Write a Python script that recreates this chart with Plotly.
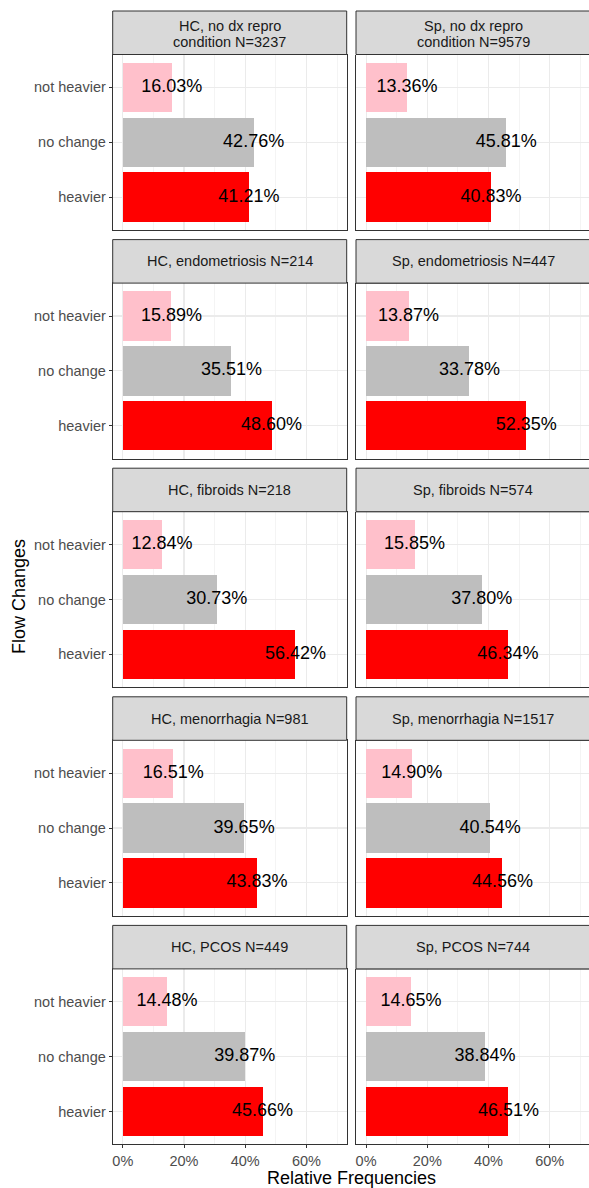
import plotly.graph_objects as go

# ---------------- data ----------------
categories = ["heavier", "no change", "not heavier"]
bar_colors = {"heavier": "#FF0000", "no change": "#BEBEBE", "not heavier": "#FFC0CB"}

panel_titles = [
    ["HC, no dx repro", "condition N=3237"],
    ["Sp, no dx repro", "condition N=9579"],
    ["HC, endometriosis N=214"],
    ["Sp, endometriosis N=447"],
    ["HC, fibroids N=218"],
    ["Sp, fibroids N=574"],
    ["HC, menorrhagia N=981"],
    ["Sp, menorrhagia N=1517"],
    ["HC, PCOS N=449"],
    ["Sp, PCOS N=744"],
]
not_heavier = [16.03, 13.36, 15.89, 13.87, 12.84, 15.85, 16.51, 14.90, 14.48, 14.65]
no_change = [42.76, 45.81, 35.51, 33.78, 30.73, 37.80, 39.65, 40.54, 39.87, 38.84]
heavier = [41.21, 40.83, 48.60, 52.35, 56.42, 46.34, 43.83, 44.56, 45.66, 46.51]

x_tick_vals = [0, 20, 40, 60]
x_tick_text = ["0%", "20%", "40%", "60%"]
x_title = "Relative Frequencies"
y_title = "Flow Changes"

# ---------------- layout geometry ----------------
W, H = 589, 1188
FONT = "Liberation Sans, Arial, sans-serif"
col_x = [(112.7, 346.7), (356.0, 590.0)]
strip_top0 = 11.0
period = 228.6
strip_h = 43.5
panel_h = 175.5
px_per_pct = 3.06
x_left = -3.3


def py(p):
    return 1 - p / H


fig = go.Figure()
shapes = []
annotations = []
layout_axes = {}

for i in range(10):
    r, c = divmod(i, 2)
    k = i + 1
    xa = "x" if k == 1 else f"x{k}"
    ya = "y" if k == 1 else f"y{k}"
    vals = {"heavier": heavier[i], "no change": no_change[i], "not heavier": not_heavier[i]}
    yv = categories
    xv = [vals[cat] for cat in categories]
    fig.add_trace(go.Bar(
        x=xv, y=yv, orientation="h", width=0.9,
        marker=dict(color=[bar_colors[cat] for cat in categories], line=dict(width=0)),
        xaxis=xa, yaxis=ya, showlegend=False, hoverinfo="skip",
    ))
    fig.add_trace(go.Scatter(
        x=xv, y=yv, mode="text", text=[f"{v:.2f}%" for v in xv],
        textposition="middle center",
        textfont=dict(size=18, color="black", family=FONT),
        xaxis=xa, yaxis=ya, showlegend=False, hoverinfo="skip", cliponaxis=False,
    ))

    x0, x1 = col_x[c]
    x1d = min(x1, W)
    st = strip_top0 + period * r
    sb = st + strip_h
    pb = sb + panel_h
    width_px = x1d - x0
    bottom_row = (r == 4)
    left_col = (c == 0)

    layout_axes["xaxis" if k == 1 else f"xaxis{k}"] = dict(
        domain=[x0 / W, x1d / W], anchor=ya,
        range=[x_left, x_left + width_px / px_per_pct],
        tickvals=x_tick_vals, ticktext=x_tick_text,
        showticklabels=bottom_row,
        ticks="outside" if bottom_row else "", ticklen=3, tickwidth=1, tickcolor="#333333",
        tickfont=dict(size=14.5, color="#4D4D4D", family=FONT),
        showgrid=True, gridcolor="#EBEBEB", gridwidth=1.1,
        minor=dict(dtick=10, tick0=0, showgrid=True, gridcolor="#EBEBEB", gridwidth=0.55, ticks=""),
        zeroline=False, showline=True, mirror=(c == 0), linecolor="#333333", linewidth=1,
        fixedrange=True,
    )
    layout_axes["yaxis" if k == 1 else f"yaxis{k}"] = dict(
        domain=[py(pb), py(sb)], anchor=xa,
        type="category", categoryorder="array", categoryarray=categories,
        range=[-0.6, 2.6],
        showticklabels=left_col,
        ticks="outside" if left_col else "", ticklen=3, tickwidth=1, tickcolor="#333333",
        tickfont=dict(size=14.5, color="#4D4D4D", family=FONT),
        showgrid=True, gridcolor="#EBEBEB", gridwidth=1.1,
        zeroline=False, showline=True, mirror=(c == 0), linecolor="#333333", linewidth=1,
        fixedrange=True,
    )
    if c == 1:
        # top border of right-column panels (right edge is cut off in the reference)
        shapes.append(dict(type="line", xref="paper", yref="paper",
                           x0=x0 / W, x1=1, y0=py(sb), y1=py(sb),
                           line=dict(color="#333333", width=1)))

    # strip
    shapes.append(dict(type="rect", xref="paper", yref="paper",
                       x0=x0 / W, x1=x1 / W, y0=py(sb), y1=py(st),
                       fillcolor="#D9D9D9", line=dict(color="#333333", width=1), layer="above"))
    lines = panel_titles[i]
    cx = (x0 + x1) / 2 / W
    if len(lines) == 1:
        ys = [(st + sb) / 2]
    else:
        ys = [st + 15.5, st + 31.0]
    for txt, yy in zip(lines, ys):
        annotations.append(dict(text=txt, x=cx, y=py(yy), xref="paper", yref="paper",
                                xanchor="center", yanchor="middle", showarrow=False,
                                font=dict(size=14.5, color="#1A1A1A", family=FONT)))

# axis titles
annotations.append(dict(text=x_title, x=((col_x[0][0] + col_x[1][1]) / 2) / W, y=py(1178),
                        xref="paper", yref="paper", xanchor="center", yanchor="middle",
                        showarrow=False, font=dict(size=18, color="black", family=FONT)))
annotations.append(dict(text=y_title, x=19 / W, y=py(597), textangle=-90,
                        xref="paper", yref="paper", xanchor="center", yanchor="middle",
                        showarrow=False, font=dict(size=18, color="black", family=FONT)))

fig.update_layout(
    width=W, height=H, margin=dict(l=0, r=0, t=0, b=0),
    paper_bgcolor="white", plot_bgcolor="white",
    shapes=shapes, annotations=annotations, bargap=0,
    font=dict(family=FONT), **layout_axes,
)

fig.write_html(
    "out.html",
    config={"displayModeBar": False, "staticPlot": True},
    post_script="document.body.style.margin='0';document.body.style.overflow='hidden';",
)
